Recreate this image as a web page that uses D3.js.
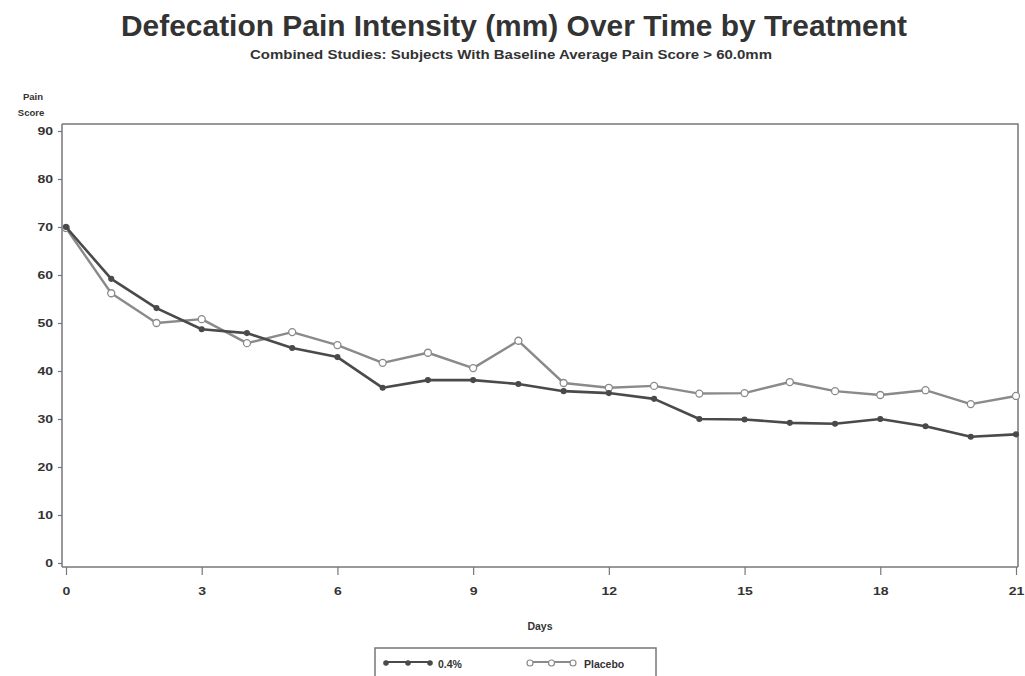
<!DOCTYPE html>
<html>
<head>
<meta charset="utf-8">
<script src="https://cdn.jsdelivr.net/npm/d3@7"></script>
<style>
  html, body { margin: 0; padding: 0; background: #fff; }
  svg { display: block; font-family: "Liberation Sans", Arial, sans-serif; }
</style>
</head>
<body>
<svg id="chart" width="1025" height="676"></svg>
<script>
// Days since baseline
const days = d3.range(0, 22);
// Mean defecation pain score (mm) per treatment group
const active04 = [70, 59.2, 53.1, 48.7, 47.9, 44.8, 42.9, 36.5, 38.1, 38.1, 37.3, 35.8,
                  35.4, 34.2, 30.0, 29.9, 29.2, 29.0, 30.0, 28.5, 26.3, 26.8];
const placebo  = [69.8, 56.2, 50.0, 50.8, 45.8, 48.1, 45.4, 41.7, 43.8, 40.6, 46.3, 37.5,
                  36.5, 36.9, 35.3, 35.4, 37.7, 35.8, 35.0, 36.0, 33.1, 34.8];
const xTicks = [0, 3, 6, 9, 12, 15, 18, 21];
const yTicks = [0, 10, 20, 30, 40, 50, 60, 70, 80, 90];
const seriesNames = ["0.4%", "Placebo"];

const svg = d3.select("#chart");
const textCol = "#333";
const axisCol = "#777";

const frame = { left: 62, right: 1018, top: 124, bottom: 567 };
const x = d3.scaleLinear().domain([0, 21]).range([66, 1016]);
const y = d3.scaleLinear().domain([0, 90]).range([563, 131]);

// Titles
svg.append("text")
  .attr("x", 514).attr("y", 36)
  .attr("text-anchor", "middle")
  .attr("font-size", 30).attr("font-weight", "bold")
  .attr("textLength", 786).attr("lengthAdjust", "spacingAndGlyphs")
  .attr("fill", textCol)
  .text("Defecation Pain Intensity (mm) Over Time by Treatment");
svg.append("text")
  .attr("x", 511).attr("y", 59)
  .attr("text-anchor", "middle")
  .attr("font-size", 12).attr("font-weight", "bold")
  .attr("textLength", 522).attr("lengthAdjust", "spacingAndGlyphs")
  .attr("fill", textCol)
  .text("Combined Studies: Subjects With Baseline Average Pain Score >  60.0mm");

// Plot frame (top and right edges)
svg.append("path")
  .attr("d", `M${frame.left},${frame.top}H${frame.right}V${frame.bottom}`)
  .attr("fill", "none").attr("stroke", axisCol).attr("stroke-width", 1.5);

// Wide, bold tick numerals
function styleTickText(sel) {
  sel.attr("font-size", 11).attr("font-weight", "bold")
    .attr("font-family", "Liberation Sans, Arial, sans-serif")
    .attr("fill", textCol)
    .attr("textLength", function () { return this.textContent.length * 7.8; })
    .attr("lengthAdjust", "spacingAndGlyphs");
}

// Y axis
const yAxis = svg.append("g")
  .attr("transform", `translate(${frame.left},0)`)
  .call(d3.axisLeft(y).tickValues(yTicks).tickSize(4).tickPadding(5));
yAxis.select(".domain").attr("d", `M0,${frame.top}V${frame.bottom}`)
  .attr("stroke", axisCol).attr("stroke-width", 1.5);
yAxis.selectAll(".tick line").attr("stroke", axisCol).attr("stroke-width", 1.2);
yAxis.selectAll(".tick text").call(styleTickText);

// X axis
const xAxis = svg.append("g")
  .attr("transform", `translate(0,${frame.bottom})`)
  .call(d3.axisBottom(x).tickValues(xTicks).tickSize(8).tickPadding(12));
xAxis.select(".domain").attr("d", `M${frame.left},0H${frame.right}`)
  .attr("stroke", axisCol).attr("stroke-width", 1.5);
xAxis.selectAll(".tick line").attr("stroke", axisCol).attr("stroke-width", 1.2);
xAxis.selectAll(".tick text").call(styleTickText);

// Axis labels
svg.append("text").attr("x", 33).attr("y", 100)
  .attr("text-anchor", "middle").attr("font-size", 9.5).attr("font-weight", "bold")
  .attr("fill", textCol).text("Pain");
svg.append("text").attr("x", 31).attr("y", 116)
  .attr("text-anchor", "middle").attr("font-size", 9.5).attr("font-weight", "bold")
  .attr("fill", textCol).text("Score");
svg.append("text").attr("x", 540).attr("y", 630)
  .attr("text-anchor", "middle").attr("font-size", 10.5).attr("font-weight", "bold")
  .attr("fill", textCol).text("Days");

// Series drawing
const styles = [
  { values: active04, color: "#4a4a4a", width: 2.6, marker: "filled" },
  { values: placebo,  color: "#8a8a8a", width: 2.4, marker: "open" }
];
const line = d3.line().x(d => x(d[0])).y(d => y(d[1]));

// Placebo first so the active series sits on top
[1, 0].forEach(i => {
  const s = styles[i];
  const pts = days.map((d, k) => [d, s.values[k]]);
  svg.append("path").datum(pts)
    .attr("d", line)
    .attr("fill", "none")
    .attr("stroke", s.color).attr("stroke-width", s.width)
    .attr("stroke-linejoin", "round");
  const g = svg.append("g");
  g.selectAll("circle").data(pts).join("circle")
    .attr("cx", d => x(d[0])).attr("cy", d => y(d[1]))
    .attr("r", s.marker === "open" ? 3.5 : 2.4)
    .attr("fill", s.marker === "open" ? "#fff" : s.color)
    .attr("stroke", s.color).attr("stroke-width", 1.3);
});

// Legend
const legend = svg.append("g");
legend.append("rect")
  .attr("x", 375).attr("y", 648).attr("width", 281).attr("height", 40)
  .attr("fill", "none").attr("stroke", axisCol).attr("stroke-width", 1.5);
const legendItems = [
  { name: seriesNames[0], s: styles[0], x0: 386, x1: 430, tx: 438 },
  { name: seriesNames[1], s: styles[1], x0: 530, x1: 573, tx: 584 }
];
legendItems.forEach(it => {
  const ly = 662;
  legend.append("line")
    .attr("x1", it.x0).attr("x2", it.x1).attr("y1", ly).attr("y2", ly)
    .attr("stroke", it.s.color).attr("stroke-width", 2);
  [it.x0, (it.x0 + it.x1) / 2, it.x1].forEach(cx => {
    legend.append("circle").attr("cx", cx).attr("cy", ly + 1)
      .attr("r", it.s.marker === "open" ? 3 : 2.2)
      .attr("fill", it.s.marker === "open" ? "#fff" : it.s.color)
      .attr("stroke", it.s.color).attr("stroke-width", 1.2);
  });
  legend.append("text").attr("x", it.tx).attr("y", ly + 6)
    .attr("font-size", 10.5).attr("font-weight", "bold")
    .attr("fill", textCol).text(it.name);
});
</script>
</body>
</html>
